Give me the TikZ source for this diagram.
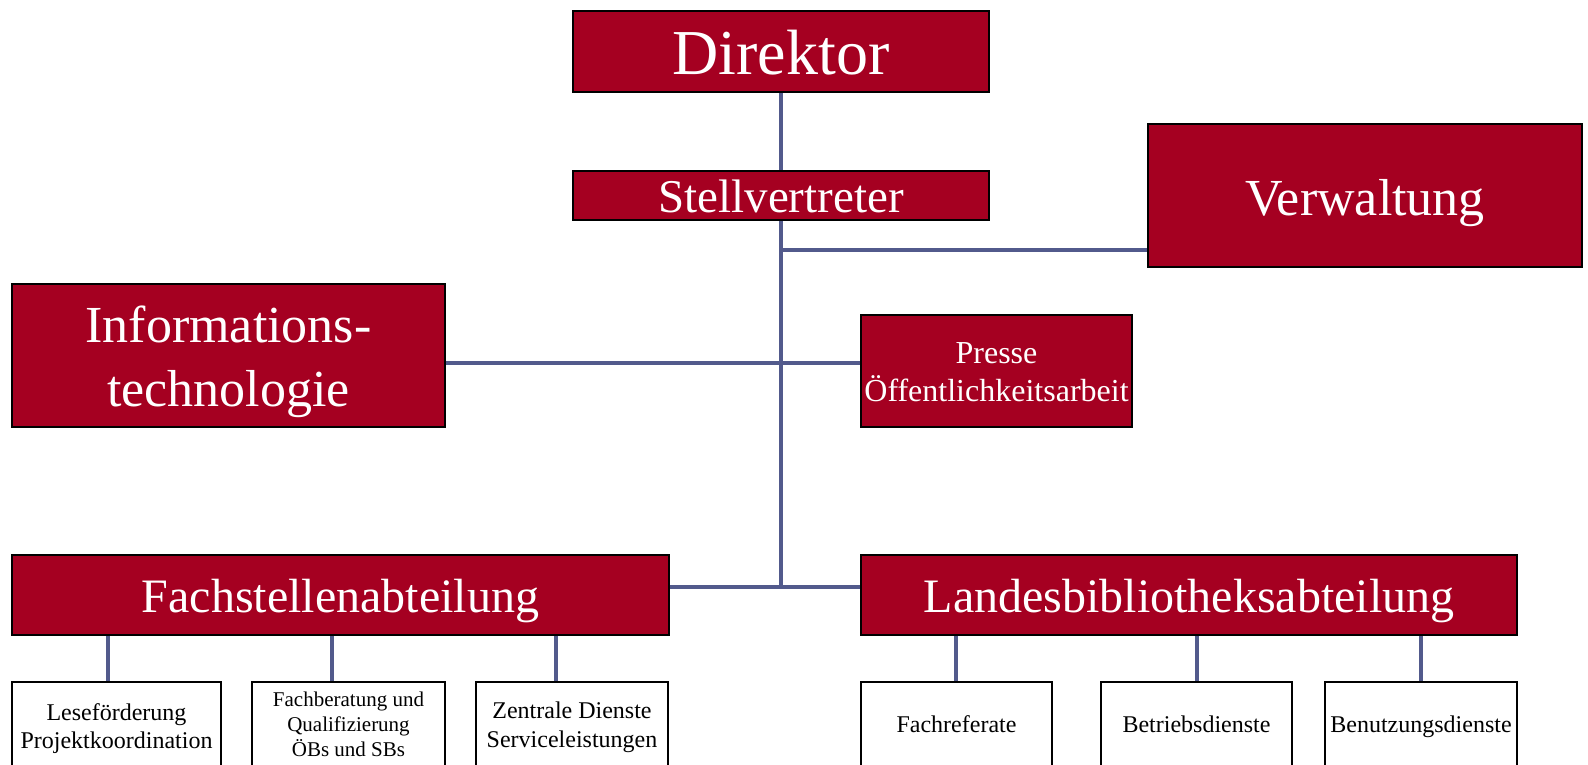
\documentclass[tikz,border=0pt]{standalone}
\usepackage{fontspec}
\setmainfont{Liberation Serif}
\definecolor{boxred}{RGB}{165,0,33}
\definecolor{linkblue}{RGB}{82,90,140}
\tikzset{
  redbox/.style={draw=black, line width=1.5pt, fill=boxred, text=white, inner sep=0pt},
  whitebox/.style={draw=black, line width=1.5pt, fill=white, text=black, inner sep=0pt},
  link/.style={draw=linkblue, line width=4pt},
}
\newcommand{\fsz}[2]{\fontsize{#1}{#2}\selectfont}
% #1 = raise of first baseline relative to node centre, #2 = lines
\newcommand{\lines}[2]{\raisebox{#1}[0pt][0pt]{\begin{tabular}[t]{@{}c@{}}#2\end{tabular}}}
\begin{document}
\begin{tikzpicture}[x=1pt,y=-1pt]
\useasboundingbox (0,0) rectangle (1588,764);
\fill[white] (0,0) rectangle (1588,764);
% junction coordinates
\coordinate (jv) at (781,250);
\coordinate (ji) at (781,363);
\coordinate (jb) at (781,587);
\coordinate (x1) at (108,0);
\coordinate (x2) at (332,0);
\coordinate (x3) at (556,0);
\coordinate (x4) at (956,0);
\coordinate (x5) at (1197,0);
\coordinate (x6) at (1421,0);
% nodes
\node[redbox, minimum width=416, minimum height=81, font=\fsz{64}{70}] (dir) at (781,51.5) {\lines{-22.5pt}{Direktor}};
\node[redbox, minimum width=416, minimum height=49, font=\fsz{47}{52}] (stv) at (781,195.5) {\lines{-16.5pt}{Stellvertreter}};
\node[redbox, minimum width=434, minimum height=143, font=\fsz{52}{62}] (verw) at (1365,195.5) {\lines{-20pt}{Verwaltung}};
\node[redbox, minimum width=433, minimum height=143, font=\fsz{52}{64}] (it) at (228.5,355.5) {\lines{13.5pt}{Informations-\\technologie}};
\node[redbox, minimum width=271, minimum height=112, font=\fsz{32}{38.5}] (presse) at (996.5,371) {\lines{8pt}{Presse\\Öffentlichkeitsarbeit}};
\node[redbox, minimum width=657, minimum height=80, font=\fsz{48}{56}] (fach) at (340.5,595) {\lines{-17pt}{Fachstellenabteilung}};
\node[redbox, minimum width=656, minimum height=80, font=\fsz{48}{56}] (landes) at (1189,595) {\lines{-17pt}{Landesbibliotheksabteilung}};
\node[whitebox, minimum width=209, minimum height=84, font=\fsz{24}{28.5}] (b1) at (116.5,724) {\lines{4pt}{Leseförderung\\Projektkoordination}};
\node[whitebox, minimum width=193, minimum height=84, font=\fsz{21}{25}] (b2) at (348.5,724) {\lines{18pt}{Fachberatung und\\Qualifizierung\\ÖBs und SBs}};
\node[whitebox, minimum width=192, minimum height=84, font=\fsz{24}{29.5}] (b3) at (572,724) {\lines{6pt}{Zentrale Dienste\\Serviceleistungen}};
\node[whitebox, minimum width=191, minimum height=84, font=\fsz{24}{28}] (b4) at (956.5,724) {\lines{-8pt}{Fachreferate}};
\node[whitebox, minimum width=191, minimum height=84, font=\fsz{24}{28}] (b5) at (1196.5,724) {\lines{-8pt}{Betriebsdienste}};
\node[whitebox, minimum width=192, minimum height=84, font=\fsz{24}{28}] (b6) at (1421,724) {\lines{-8pt}{Benutzungsdienste}};
% links
\draw[link] (dir.south) -- (stv.north);
\draw[link] (stv.south) -- (jb);
\draw[link] (jv) -- (verw.west |- jv);
\draw[link] (it.east |- ji) -- (presse.west |- ji);
\draw[link] (fach.east |- jb) -- (landes.west |- jb);
\draw[link] (fach.south -| x1) -- (b1.north -| x1);
\draw[link] (fach.south -| x2) -- (b2.north -| x2);
\draw[link] (fach.south -| x3) -- (b3.north -| x3);
\draw[link] (landes.south -| x4) -- (b4.north -| x4);
\draw[link] (landes.south -| x5) -- (b5.north -| x5);
\draw[link] (landes.south -| x6) -- (b6.north -| x6);
\end{tikzpicture}
\end{document}
